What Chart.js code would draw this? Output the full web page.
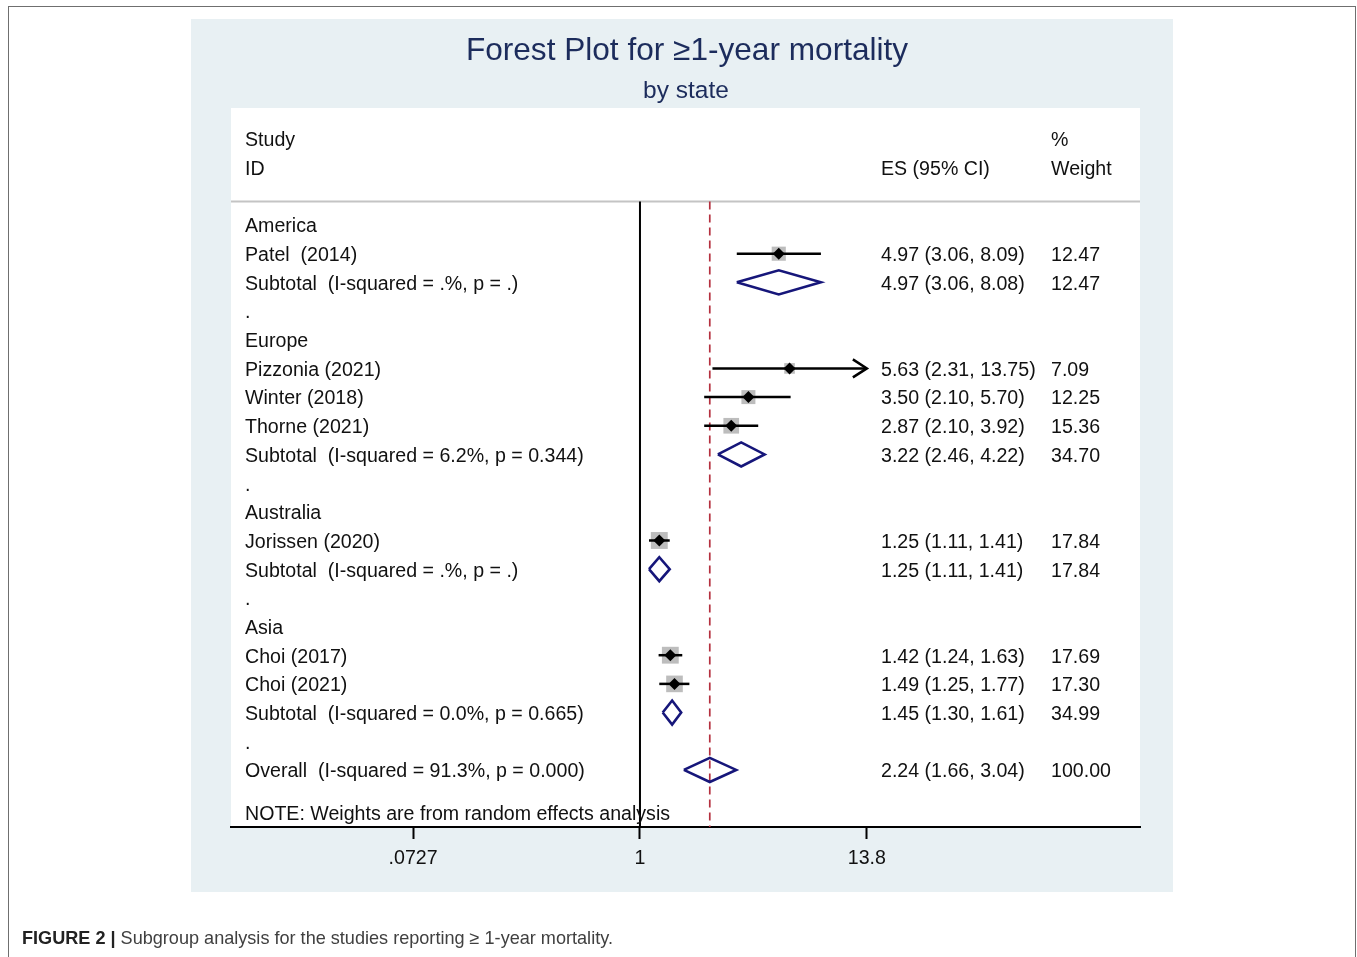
<!DOCTYPE html>
<html><head><meta charset="utf-8">
<script src="https://cdn.jsdelivr.net/npm/chart.js@4/dist/chart.umd.min.js"></script>
<style>
html,body{margin:0;padding:0;background:#fff;width:1357px;height:957px;overflow:hidden}
#frame{position:absolute;left:8px;top:6px;width:1348px;height:1000px;border:1.5px solid #6f6f6f;box-sizing:border-box}
#c{position:absolute;left:0;top:0}
#cap{position:absolute;left:22px;top:928px;font-family:"Liberation Sans Narrow","Arial Narrow","Liberation Sans",sans-serif;font-size:18.1px;color:#404040;white-space:nowrap}
#cap b{color:#222}
</style></head><body>
<div id="frame"></div>
<canvas id="c" width="1357" height="957"></canvas>
<div id="cap"></div>
<script>
// ---- data ----
const titleText = "Forest Plot for \u22651-year mortality";
const subtitleText = "by state";
const headStudy = ["Study", "ID"];
const headES = "ES (95% CI)";
const headWeight = ["%", "Weight"];
const noteText = "NOTE: Weights are from random effects analysis";
const captionBold = "FIGURE 2 |";
const captionText = " Subgroup analysis for the studies reporting \u2265 1-year mortality.";

const rowLabels = [
  "America", "Patel  (2014)", "Subtotal  (I-squared = .%, p = .)", ".",
  "Europe", "Pizzonia (2021)", "Winter (2018)", "Thorne (2021)", "Subtotal  (I-squared = 6.2%, p = 0.344)", ".",
  "Australia", "Jorissen (2020)", "Subtotal  (I-squared = .%, p = .)", ".",
  "Asia", "Choi (2017)", "Choi (2021)", "Subtotal  (I-squared = 0.0%, p = 0.665)", ".",
  "Overall  (I-squared = 91.3%, p = 0.000)"
];
const rowKinds = [
  "group", "study", "sub", "blank",
  "group", "study", "study", "study", "sub", "blank",
  "group", "study", "sub", "blank",
  "group", "study", "study", "sub", "blank",
  "overall"
];
const es      = [null, 4.97, 4.97, null, null, 5.63, 3.50, 2.87, 3.22, null, null, 1.25, 1.25, null, null, 1.42, 1.49, 1.45, null, 2.24];
const ciLow   = [null, 3.06, 3.06, null, null, 2.31, 2.10, 2.10, 2.46, null, null, 1.11, 1.11, null, null, 1.24, 1.25, 1.30, null, 1.66];
const ciHigh  = [null, 8.09, 8.08, null, null, 13.75, 5.70, 3.92, 4.22, null, null, 1.41, 1.41, null, null, 1.63, 1.77, 1.61, null, 3.04];
const weights = [null, 12.47, 12.47, null, null, 7.09, 12.25, 15.36, 34.70, null, null, 17.84, 17.84, null, null, 17.69, 17.30, 34.99, null, 100.00];

const xTickValues = [0.0727, 1, 13.755];
const xTickLabels = [".0727", "1", "13.8"];

// ---- layout / style constants ----
const FONT = '"Liberation Sans", Arial, Helvetica, sans-serif';
const X_MIN = 0.00887, X_MAX = 322.8;
const Y_MIN = -4.08, Y_MAX = 20.99;
const HEADER_ROW_LINE = -0.82;
const DIAMOND_HALF = 0.42;
const NAVY = "#16167a";
const TEXT_DY = 2;
const clipHi = xTickValues[xTickValues.length - 1];

document.getElementById("cap").innerHTML = "<b>" + captionBold + "</b>" + captionText;

const overallIdx = rowKinds.indexOf("overall");
const datasets = [];
// CI reaching the top of the plotted range is drawn with an arrow
const isClipped = i => ciHigh[i] >= clipHi * 0.995;

const studyIdx = rowKinds.map((k, i) => k === "study" ? i : -1).filter(i => i >= 0);
// grey weight boxes
datasets.push({
  label: "box", order: 5,
  data: studyIdx.map(i => ({x: es[i], y: i})),
  pointStyle: "rect",
  pointRadius: studyIdx.map(i => 4.0 * Math.sqrt(weights[i]) / Math.SQRT2),
  backgroundColor: "#bdbdbd", borderWidth: 0, showLine: false
});
// CI lines
studyIdx.forEach(i => {
  datasets.push({
    label: "ci" + i, order: 3, showLine: true,
    data: [{x: ciLow[i], y: i}, {x: Math.min(ciHigh[i], clipHi), y: i}],
    borderColor: "#000", borderWidth: 2.5, pointRadius: 0
  });
});
// point estimates
datasets.push({
  label: "pt", order: 1,
  data: studyIdx.map(i => ({x: es[i], y: i})),
  pointStyle: "rectRot", pointRadius: 6,
  backgroundColor: "#000", borderWidth: 0, showLine: false
});
// subtotal and overall diamonds
rowKinds.forEach((k, i) => {
  if (k === "sub" || k === "overall") {
    datasets.push({
      label: "dia" + i, order: 2, showLine: true,
      data: [
        {x: ciLow[i], y: i}, {x: es[i], y: i - DIAMOND_HALF},
        {x: ciHigh[i], y: i}, {x: es[i], y: i + DIAMOND_HALF}, {x: ciLow[i], y: i}
      ],
      borderColor: NAVY, borderWidth: 2.6, pointRadius: 0, tension: 0,
      borderJoinStyle: "miter"
    });
  }
});
// null line at 1
datasets.push({
  label: "null", order: 4, showLine: true,
  data: [{x: 1, y: HEADER_ROW_LINE}, {x: 1, y: Y_MAX}],
  borderColor: "#000", borderWidth: 2, pointRadius: 0
});
// overall reference dashed line
datasets.push({
  label: "ref", order: 4, showLine: true,
  data: [{x: es[overallIdx], y: HEADER_ROW_LINE}, {x: es[overallIdx], y: Y_MAX}],
  borderColor: "#b4303f", borderWidth: 1.7, borderDash: [8, 5], pointRadius: 0
});

const forestPlugin = {
  id: "forest",
  beforeDraw(chart) {
    const ctx = chart.ctx;
    const ca = chart.chartArea;
    ctx.save();
    ctx.fillStyle = "#e8f0f3";
    ctx.fillRect(191, 19, 982, 873);
    ctx.fillStyle = "#ffffff";
    ctx.fillRect(ca.left, ca.top, ca.right - ca.left, ca.bottom - ca.top);
    const yS = chart.scales.y;
    const hy = yS.getPixelForValue(HEADER_ROW_LINE);
    ctx.strokeStyle = "#c4c4c4";
    ctx.lineWidth = 2;
    ctx.beginPath(); ctx.moveTo(ca.left, hy); ctx.lineTo(ca.right, hy); ctx.stroke();
    ctx.restore();
  },
  afterDatasetsDraw(chart) {
    const ctx = chart.ctx;
    const xS = chart.scales.x, yS = chart.scales.y;
    ctx.save();
    ctx.strokeStyle = "#000"; ctx.lineWidth = 2.5;
    rowKinds.forEach((k, i) => {
      if (k === "study" && isClipped(i)) {
        const px = xS.getPixelForValue(clipHi), py = yS.getPixelForValue(i);
        ctx.beginPath();
        ctx.moveTo(px - 14, py - 9); ctx.lineTo(px, py); ctx.lineTo(px - 14, py + 9);
        ctx.stroke();
      }
    });
    ctx.restore();
  },
  afterDraw(chart) {
    const ctx = chart.ctx;
    const yS = chart.scales.y;
    const colL = 245, colES = 881, colW = 1051;
    const ry = v => yS.getPixelForValue(v) + TEXT_DY;
    ctx.save();
    ctx.textAlign = "center"; ctx.textBaseline = "middle";
    ctx.fillStyle = "#1c2c5c";
    ctx.font = "31.6px " + FONT;
    ctx.fillText(titleText, 687, 51.5);
    ctx.font = "24.5px " + FONT;
    ctx.fillText(subtitleText, 686, 91);
    ctx.textAlign = "left";
    ctx.fillStyle = "#111";
    ctx.font = "19.6px " + FONT;
    ctx.fillText(headStudy[0], colL, ry(-3));
    ctx.fillText(headStudy[1], colL, ry(-2));
    ctx.fillText(headES, colES, ry(-2));
    ctx.fillText(headWeight[0], colW, ry(-3));
    ctx.fillText(headWeight[1], colW, ry(-2));
    rowLabels.forEach((lab, i) => {
      const py = ry(i);
      ctx.fillText(lab, colL, py);
      if (es[i] !== null) {
        ctx.fillText(es[i].toFixed(2) + " (" + ciLow[i].toFixed(2) + ", " + ciHigh[i].toFixed(2) + ")", colES, py);
        ctx.fillText(weights[i].toFixed(2), colW, py);
      }
    });
    ctx.fillText(noteText, colL, ry(rowLabels.length + 0.5));
    ctx.restore();
  }
};

new Chart(document.getElementById("c"), {
  type: "scatter",
  data: {datasets},
  options: {
    responsive: false, animation: false, events: [],
    layout: {padding: {left: 231, right: 217, top: 108, bottom: 70}},
    plugins: {legend: {display: false}, tooltip: {enabled: false}, title: {display: false}},
    scales: {
      x: {
        type: "logarithmic", position: "bottom", min: X_MIN, max: X_MAX,
        afterBuildTicks(scale) { scale.ticks = xTickValues.map(v => ({value: v})); },
        afterFit(scale) { scale.height = 60; },
        ticks: {
          autoSkip: false, maxRotation: 0, padding: 8, color: "#111",
          font: {family: FONT, size: 19.6},
          callback: (v, idx) => xTickLabels[idx]
        },
        grid: {display: true, drawOnChartArea: false, drawTicks: true, tickLength: 12, tickWidth: 2, tickColor: "#000"},
        border: {display: true, color: "#000", width: 2}
      },
      y: {type: "linear", reverse: true, min: Y_MIN, max: Y_MAX, display: false}
    }
  },
  plugins: [forestPlugin]
});
</script>
</body></html>
